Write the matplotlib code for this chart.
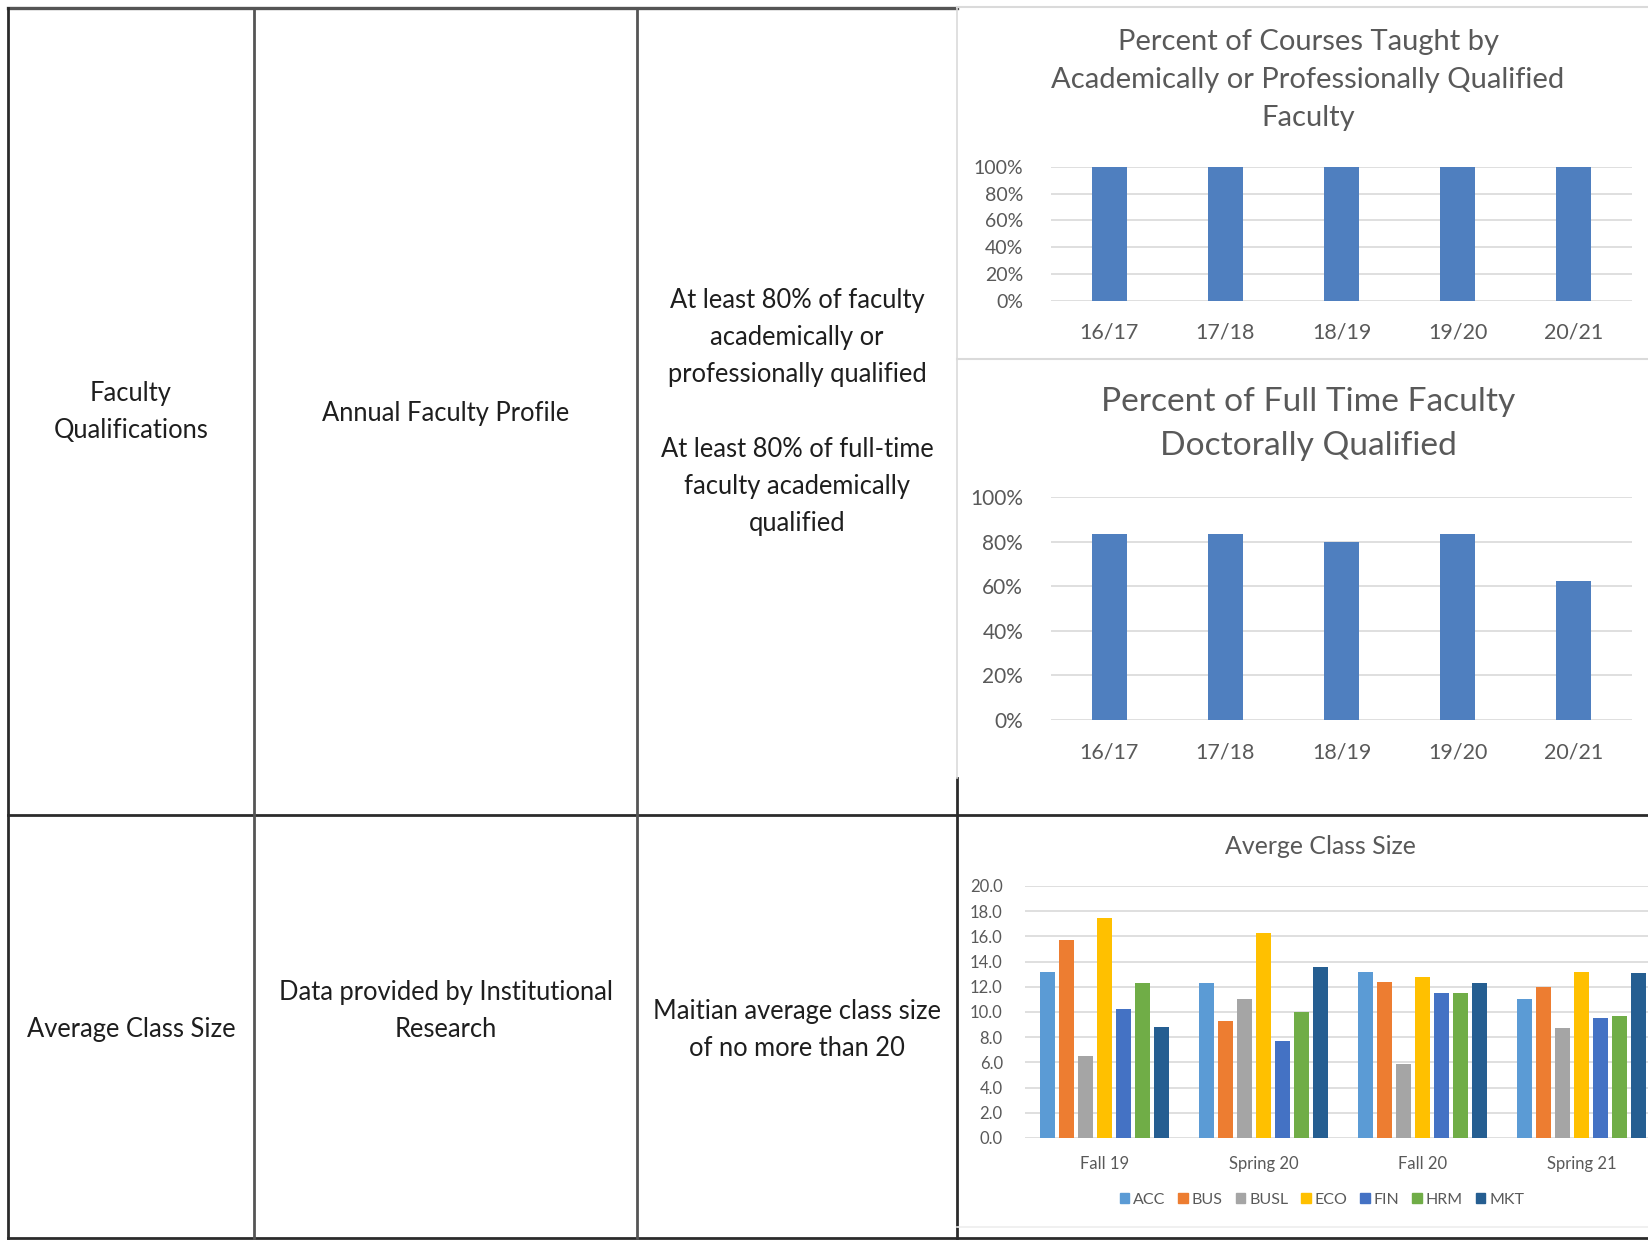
import matplotlib
matplotlib.use("Agg")
import matplotlib.pyplot as plt
from matplotlib.lines import Line2D
from matplotlib.patches import Patch
from matplotlib.ticker import FuncFormatter

plt.rcParams['font.family'] = ['Lato', 'DejaVu Sans']

# figure size in pixels
W, H = 1648, 1241

# data
years = ['16/17', '17/18', '18/19', '19/20', '20/21']
pct_qualified = [1.0, 1.0, 1.0, 1.0, 1.0]
pct_doctoral = [0.833, 0.833, 0.80, 0.833, 0.625]

terms = ['Fall 19', 'Spring 20', 'Fall 20', 'Spring 21']
programs = ['ACC', 'BUS', 'BUSL', 'ECO', 'FIN', 'HRM', 'MKT']
class_size = {
    'ACC':  [13.2, 12.3, 13.2, 11.0],
    'BUS':  [15.7, 9.3, 12.4, 12.0],
    'BUSL': [6.5, 11.0, 5.9, 8.7],
    'ECO':  [17.5, 16.3, 12.8, 13.2],
    'FIN':  [10.2, 7.7, 11.5, 9.5],
    'HRM':  [12.3, 10.0, 11.5, 9.7],
    'MKT':  [8.8, 13.6, 12.3, 13.1],
}
prog_colors = ['#5B9BD5', '#ED7D31', '#A5A5A5', '#FFC000', '#4472C4', '#70AD47', '#255E91']

row1_cells = ['Faculty\nQualifications', 'Annual Faculty Profile',
              'At least 80% of faculty\nacademically or\nprofessionally qualified\n\n'
              'At least 80% of full-time\nfaculty academically\nqualified']
row2_cells = ['Average Class Size', 'Data provided by Institutional\nResearch',
              'Maitian average class size\nof no more than 20']

BAR_BLUE = '#4F7FBF'
GRID = '#D9D9D9'
TXT = '#595959'


def fx(px):
    return px / W


def fy(py):
    return 1 - py / H


def hline(fig, y, x0, x1, color='#2b2b2b', lw=2.0):
    fig.add_artist(Line2D([fx(x0), fx(x1)], [fy(y), fy(y)], color=color, lw=lw))


def vline(fig, x, y0, y1, color='#2b2b2b', lw=2.0):
    fig.add_artist(Line2D([fx(x), fx(x)], [fy(y0), fy(y1)], color=color, lw=lw))


def add_axes_px(fig, left, top, right, bottom):
    return fig.add_axes([fx(left), fy(bottom), fx(right) - fx(left), (bottom - top) / H])


def style_axes(ax):
    for s in ax.spines.values():
        s.set_visible(False)
    ax.tick_params(length=0, colors=TXT)
    ax.grid(axis='y', color=GRID, lw=1.2)
    ax.set_axisbelow(True)


fig = plt.figure(figsize=(W / 100, H / 100), dpi=100)
fig.patch.set_facecolor('white')

# table grid
hline(fig, 8, 8, 957, color='#555555', lw=2.4)
hline(fig, 7, 957, 1648, color='#DADADA', lw=1.5)
hline(fig, 815, 8, 1648)
hline(fig, 1238, 8, 1648)
vline(fig, 8, 8, 1238)
vline(fig, 254, 8, 1238, color='#555555')
vline(fig, 637, 8, 1238, color='#555555')
vline(fig, 957, 778, 1238)
vline(fig, 957, 7, 778, color='#DADADA', lw=1.2)
hline(fig, 359, 957, 1648, color='#DADADA', lw=1.5)
hline(fig, 1227, 957, 1648, color='#EEEEEE', lw=1.2)

# table text
cell_x = [131, 446, 797]
row1_y = [412, 413, 412]
row2_y = [1030, 1011, 1030]
for x, y, t in zip(cell_x, row1_y, row1_cells):
    fig.text(fx(x), fy(y), t, ha='center', va='center', fontsize=18.4,
             color='#1e1e1e', linespacing=1.61)
for x, y, t in zip(cell_x, row2_y, row2_cells):
    fig.text(fx(x), fy(y), t, ha='center', va='center', fontsize=18.4,
             color='#1e1e1e', linespacing=1.63)

pct_fmt = FuncFormatter(lambda v, _: f'{v * 100:.0f}%')

# chart 1: courses taught by qualified faculty
ax1 = add_axes_px(fig, 1051, 167, 1632, 300.6)
ax1.bar(range(len(years)), pct_qualified, width=0.30, color=BAR_BLUE)
ax1.set_xlim(-0.5, len(years) - 0.5)
ax1.set_ylim(0, 1.0)
ax1.set_yticks([0, 0.2, 0.4, 0.6, 0.8, 1.0])
ax1.yaxis.set_major_formatter(pct_fmt)
ax1.set_xticks(range(len(years)))
ax1.set_xticklabels(years)
style_axes(ax1)
ax1.tick_params(axis='y', labelsize=14, pad=20)
ax1.tick_params(axis='x', labelsize=15.5, pad=16)
fig.text(fx(1308), fy(80), 'Percent of Courses Taught by\nAcademically or Professionally Qualified\nFaculty',
         ha='center', va='center', fontsize=21, color=TXT, linespacing=1.55)

# chart 2: full time faculty doctorally qualified
ax2 = add_axes_px(fig, 1051, 497, 1632, 720)
ax2.bar(range(len(years)), pct_doctoral, width=0.30, color=BAR_BLUE)
ax2.set_xlim(-0.5, len(years) - 0.5)
ax2.set_ylim(0, 1.0)
ax2.set_yticks([0, 0.2, 0.4, 0.6, 0.8, 1.0])
ax2.yaxis.set_major_formatter(pct_fmt)
ax2.set_xticks(range(len(years)))
ax2.set_xticklabels(years)
style_axes(ax2)
ax2.tick_params(axis='y', labelsize=15, pad=20)
ax2.tick_params(axis='x', labelsize=15.5, pad=16)
fig.text(fx(1308), fy(424), 'Percent of Full Time Faculty\nDoctorally Qualified',
         ha='center', va='center', fontsize=24.1, color=TXT, linespacing=1.575)

# chart 3: average class size by program
ax3 = add_axes_px(fig, 1025, 886, 1661, 1138)
slot = 0.12
bw = 0.095
for i, (prog, col) in enumerate(zip(programs, prog_colors)):
    xs = [t + (i - 3) * slot for t in range(len(terms))]
    ax3.bar(xs, class_size[prog], width=bw, color=col, label=prog)
ax3.set_xlim(-0.5, len(terms) - 0.5)
ax3.set_ylim(0, 20)
ax3.set_yticks(range(0, 21, 2))
ax3.yaxis.set_major_formatter(FuncFormatter(lambda v, _: f'{v:.1f}'))
ax3.set_xticks(range(len(terms)))
ax3.set_xticklabels(terms)
style_axes(ax3)
ax3.tick_params(axis='y', labelsize=12, pad=16)
ax3.tick_params(axis='x', labelsize=12, pad=13)
fig.text(fx(1320), fy(846), 'Averge Class Size', ha='center', va='center',
         fontsize=17.9, color=TXT)
handles = [Patch(color=c, label=p) for p, c in zip(programs, prog_colors)]
fig.legend(handles=handles, loc='center', bbox_to_anchor=(fx(1322), fy(1200)),
           ncol=7, frameon=False, fontsize=11.5, handlelength=0.6, handleheight=0.6,
           handletextpad=0.25, columnspacing=0.8, labelcolor=TXT)

fig.savefig('out.png', dpi=100)
